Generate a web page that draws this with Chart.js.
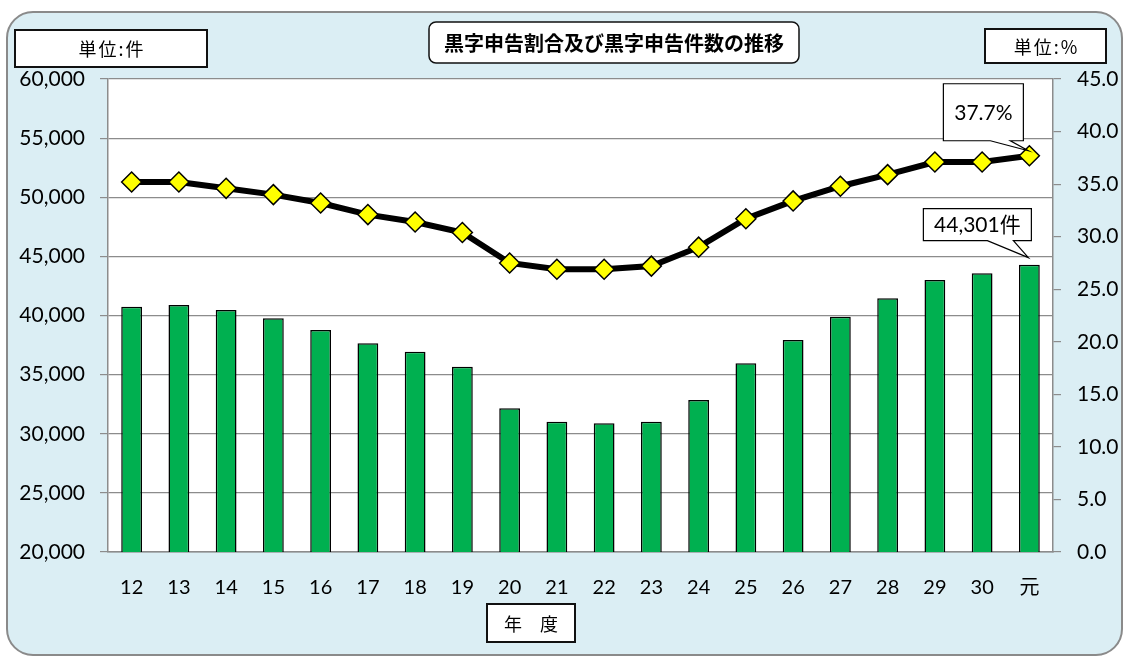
<!DOCTYPE html>
<html lang="ja">
<head>
<meta charset="utf-8">
<title>黒字申告割合及び黒字申告件数の推移</title>
<script src="https://cdn.jsdelivr.net/npm/chart.js@4/dist/chart.umd.min.js"></script>
<style>
  html, body { margin: 0; padding: 0; background: #fff; }
  #wrap { width: 1131px; height: 663px; position: relative; }
</style>
</head>
<body>
<div id="wrap"><canvas id="chart"></canvas></div>
<script>
// data
const years   = ['12','13','14','15','16','17','18','19','20','21','22','23','24','25','26','27','28','29','30','元'];
const counts  = [40750, 40890, 40470, 39760, 38770, 37650, 36940, 35670, 32150, 31020, 30880, 31020, 32850, 35960, 37930, 39900, 41450, 43000, 43570, 44301];
const ratios  = [35.2, 35.2, 34.6, 34.0, 33.2, 32.1, 31.4, 30.4, 27.5, 26.9, 26.9, 27.2, 29.0, 31.7, 33.4, 34.8, 35.9, 37.1, 37.1, 37.7];
const leftTicks  = [20000, 25000, 30000, 35000, 40000, 45000, 50000, 55000, 60000];
const rightTicks = [0, 5, 10, 15, 20, 25, 30, 35, 40, 45];

const NUM_FONT = "Lato, 'Noto Sans CJK JP', sans-serif";
const JP_FONT  = "'Noto Sans CJK JP', sans-serif";
const GRID     = '#8c8c8c';

function roundRect(ctx, x, y, w, h, r) {
  ctx.beginPath();
  ctx.moveTo(x + r, y);
  ctx.lineTo(x + w - r, y);
  ctx.arcTo(x + w, y, x + w, y + r, r);
  ctx.lineTo(x + w, y + h - r);
  ctx.arcTo(x + w, y + h, x + w - r, y + h, r);
  ctx.lineTo(x + r, y + h);
  ctx.arcTo(x, y + h, x, y + h - r, r);
  ctx.lineTo(x, y + r);
  ctx.arcTo(x, y, x + r, y, r);
  ctx.closePath();
}

function textBox(ctx, x, y, w, h, text, font, r, spacing) {
  ctx.save();
  if (r) roundRect(ctx, x, y, w, h, r);
  else { ctx.beginPath(); ctx.rect(x, y, w, h); }
  ctx.fillStyle = '#fff';
  ctx.fill();
  ctx.lineWidth = r ? 1.5 : 2;
  ctx.strokeStyle = '#111';
  ctx.stroke();
  ctx.fillStyle = '#000';
  ctx.font = font;
  ctx.textAlign = 'center';
  ctx.textBaseline = 'middle';
  if (spacing) ctx.letterSpacing = spacing;
  ctx.fillText(text, x + w / 2 + (spacing ? parseFloat(spacing) / 2 : 0), y + h / 2 + 1);
  ctx.restore();
}

// callout box with a pointer down to (tx, ty)
function callout(ctx, l, t, r, b, b1, b2, tx, ty, text) {
  ctx.save();
  ctx.beginPath();
  ctx.moveTo(l, t);
  ctx.lineTo(r, t);
  ctx.lineTo(r, b);
  ctx.lineTo(b2, b);
  ctx.lineTo(tx, ty);
  ctx.lineTo(b1, b);
  ctx.lineTo(l, b);
  ctx.closePath();
  ctx.fillStyle = '#fff';
  ctx.fill();
  ctx.lineWidth = 1.2;
  ctx.strokeStyle = '#000';
  ctx.stroke();
  ctx.fillStyle = '#000';
  ctx.font = "21px " + NUM_FONT;
  ctx.textAlign = 'center';
  ctx.textBaseline = 'middle';
  ctx.fillText(text, (l + r) / 2, (t + b) / 2 + 1);
  ctx.restore();
}

const backdrop = {
  id: 'backdrop',
  beforeDraw(chart) {
    const { ctx, chartArea: a } = chart;
    ctx.save();
    ctx.fillStyle = '#fff';
    ctx.fillRect(0, 0, chart.width, chart.height);
    roundRect(ctx, 7, 12, 1115, 643, 26);
    ctx.fillStyle = '#dbeef4';
    ctx.fill();
    ctx.lineWidth = 2;
    ctx.strokeStyle = '#8a8a8a';
    ctx.stroke();
    ctx.fillStyle = '#fff';
    ctx.fillRect(a.left, a.top, a.right - a.left, a.bottom - a.top);
    ctx.restore();
  },
  afterDraw(chart) {
    const ctx = chart.ctx;
    textBox(ctx, 15, 30, 192, 37, '単位:件', "18px " + JP_FONT, 0, '2px');
    textBox(ctx, 985, 29, 121, 34, '単位:%', "18px " + JP_FONT, 0, '2px');
    textBox(ctx, 429, 22, 370, 41, '黒字申告割合及び黒字申告件数の推移', "bold 20px " + JP_FONT, 7);
    textBox(ctx, 487, 604, 88, 38, '年　度', "18px " + JP_FONT);

    const last = years.length - 1;
    const pt = chart.getDatasetMeta(0).data[last];
    const bar = chart.getDatasetMeta(1).data[last];
    callout(ctx, pt.x - 86, pt.y - 72, pt.x - 6, pt.y - 15,
            pt.x - 39, pt.x - 19, pt.x - 1, pt.y - 5, ratios[last].toFixed(1) + '%');
    callout(ctx, bar.x - 106, bar.y - 56, bar.x + 2, bar.y - 24,
            bar.x - 42, bar.x - 16, bar.x - 1, bar.y - 7, counts[last].toLocaleString('en-US') + '件');
  }
};

new Chart(document.getElementById('chart'), {
  data: {
    labels: years,
    datasets: [
      {
        type: 'line',
        data: ratios,
        yAxisID: 'y1',
        order: 0,
        borderColor: '#000',
        borderWidth: 6,
        tension: 0,
        pointStyle: 'rectRot',
        pointRadius: 10,
        pointBackgroundColor: '#ffff00',
        pointBorderColor: '#000',
        pointBorderWidth: 1.5
      },
      {
        type: 'bar',
        data: counts,
        yAxisID: 'y',
        order: 1,
        backgroundColor: '#00b050',
        borderColor: '#000',
        borderWidth: 1.5,
        barPercentage: 0.44,
        categoryPercentage: 1
      }
    ]
  },
  options: {
    responsive: true,
    maintainAspectRatio: false,
    animation: false,
    layout: { padding: { top: 79, left: 0, right: 0, bottom: 0 } },
    plugins: { legend: { display: false }, tooltip: { enabled: false } },
    scales: {
      x: {
        grid: { display: false },
        border: { display: true, color: GRID, width: 1.5 },
        ticks: { color: '#000', font: { family: NUM_FONT, size: 20 }, padding: 16, maxRotation: 0 },
        afterFit(s) { s.height = 111; }
      },
      y: {
        position: 'left',
        min: 20000,
        max: 60000,
        afterBuildTicks(s) { s.ticks = leftTicks.map(v => ({ value: v })); },
        grid: { color: GRID, lineWidth: 1.2, tickLength: 8, tickColor: GRID },
        border: { display: true, color: GRID, width: 1.5 },
        ticks: {
          color: '#000',
          font: { family: NUM_FONT, size: 21 },
          padding: 15,
          callback: v => v.toLocaleString('en-US')
        },
        afterFit(s) { s.width = 108; }
      },
      y1: {
        position: 'right',
        min: 0,
        max: 45,
        afterBuildTicks(s) { s.ticks = rightTicks.map(v => ({ value: v })); },
        grid: { drawOnChartArea: false, tickLength: 8, tickColor: GRID, lineWidth: 1.2 },
        border: { display: true, color: GRID, width: 1.5 },
        ticks: {
          color: '#000',
          font: { family: NUM_FONT, size: 21 },
          padding: 16,
          callback: v => v.toFixed(1)
        },
        afterFit(s) { s.width = 78; }
      }
    }
  },
  plugins: [backdrop]
});
</script>
</body>
</html>
